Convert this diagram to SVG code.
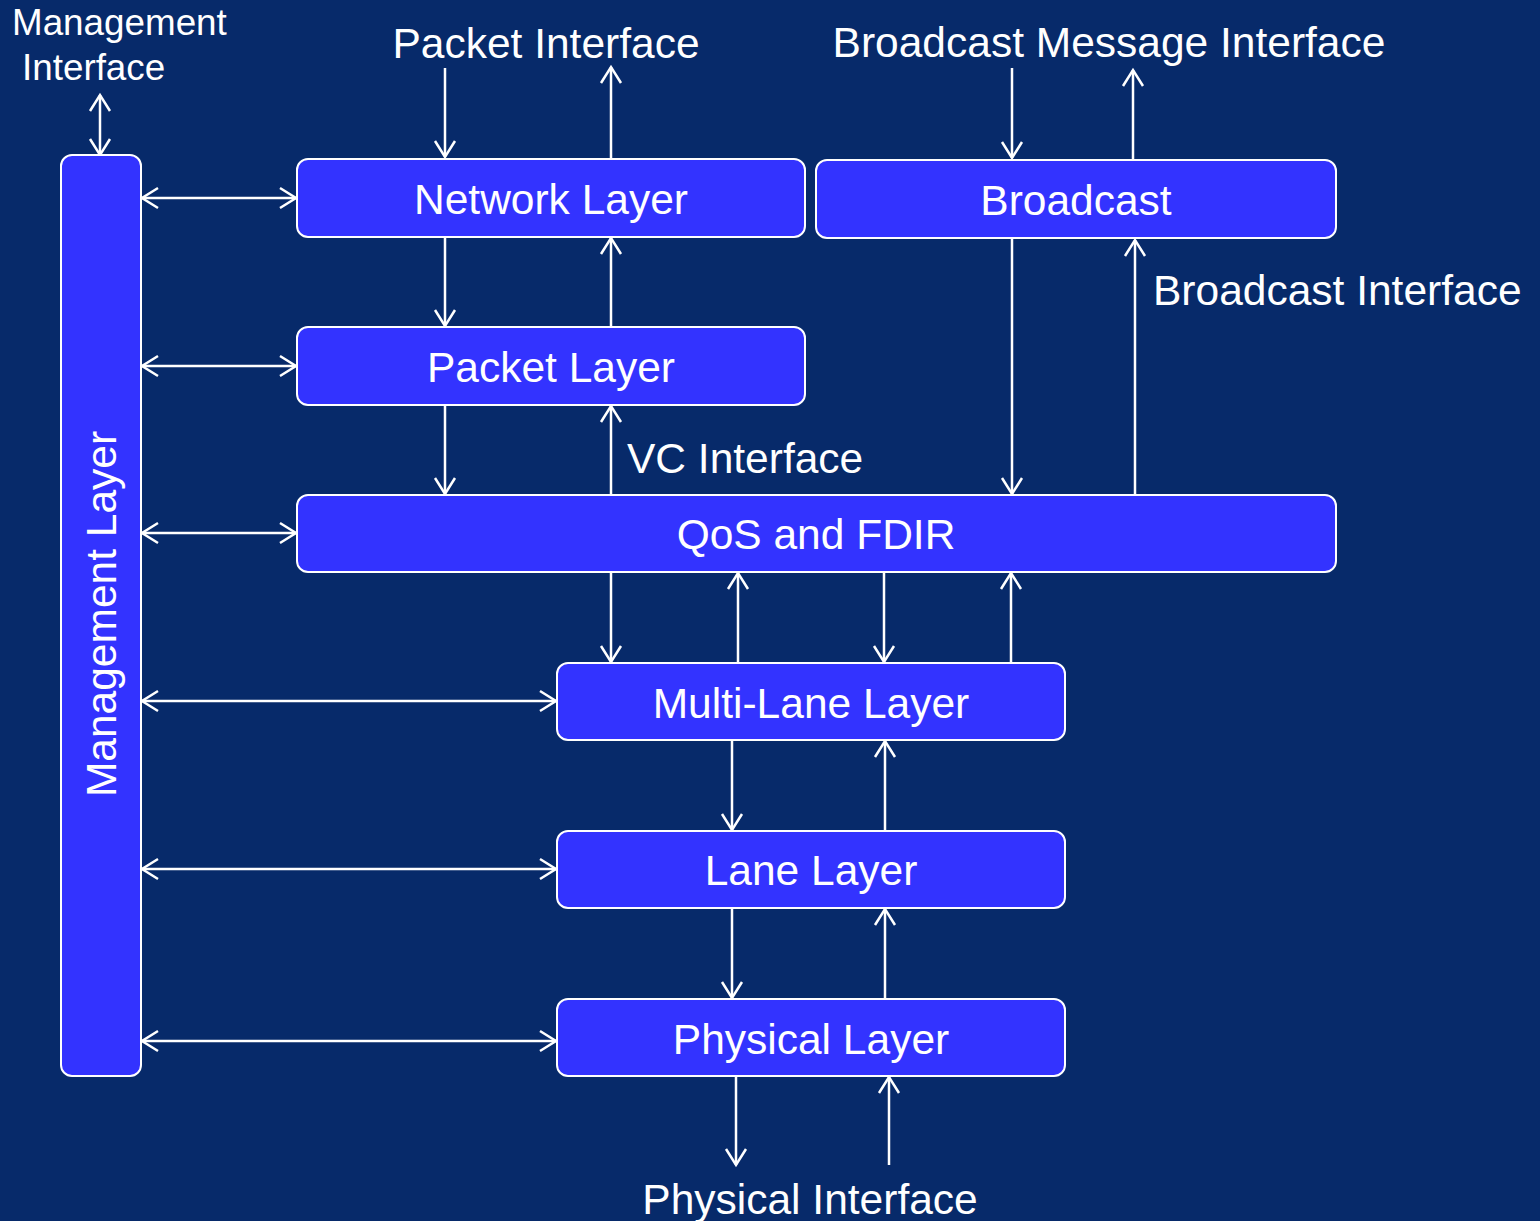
<svg xmlns="http://www.w3.org/2000/svg" width="1540" height="1221" viewBox="0 0 1540 1221">
<defs>
<style>
.node{fill:#3333FF;stroke:#FFFFFF;stroke-width:2}
.t{font-family:"Liberation Sans",Arial,sans-serif;fill:#FFFFFF;font-size:42.5px}
.s{font-size:36.8px}
.c{text-anchor:middle}
.e line{stroke:#FFFFFF;stroke-width:2.5;fill:none}
.a{marker-end:url(#ah)}
.d{marker-start:url(#ah);marker-end:url(#ah)}
</style>
<marker id="ah" markerUnits="userSpaceOnUse" markerWidth="22" markerHeight="26" viewBox="-18 -12 22 24" refX="0" refY="0" orient="auto-start-reverse">
<path d="M-16,-10 L0,0 L-16,10" fill="none" stroke="#FFFFFF" stroke-width="2.5"/>
</marker>
</defs>
<rect width="1540" height="1221" fill="#072A6A"/>
<g id="connectors" class="e">
<line class="d" x1="100" y1="95" x2="100" y2="155"/>
<line class="d" x1="142" y1="198" x2="296" y2="198"/>
<line class="d" x1="142" y1="366" x2="296" y2="366"/>
<line class="d" x1="142" y1="533" x2="296" y2="533"/>
<line class="d" x1="142" y1="701" x2="556" y2="701"/>
<line class="d" x1="142" y1="869" x2="556" y2="869"/>
<line class="d" x1="142" y1="1041" x2="556" y2="1041"/>
<line class="a" x1="445" y1="68" x2="445" y2="157"/>
<line class="a" x1="611" y1="158" x2="611" y2="67"/>
<line class="a" x1="445" y1="238" x2="445" y2="326"/>
<line class="a" x1="611" y1="326" x2="611" y2="238"/>
<line class="a" x1="445" y1="406" x2="445" y2="494"/>
<line class="a" x1="611" y1="494" x2="611" y2="406"/>
<line class="a" x1="1012" y1="68" x2="1012" y2="158"/>
<line class="a" x1="1133" y1="159" x2="1133" y2="70"/>
<line class="a" x1="1012" y1="239" x2="1012" y2="494"/>
<line class="a" x1="1135" y1="494" x2="1135" y2="240"/>
<line class="a" x1="611" y1="573" x2="611" y2="662"/>
<line class="a" x1="738" y1="662" x2="738" y2="573"/>
<line class="a" x1="884" y1="573" x2="884" y2="662"/>
<line class="a" x1="1011" y1="662" x2="1011" y2="573"/>
<line class="a" x1="732" y1="741" x2="732" y2="830"/>
<line class="a" x1="885" y1="830" x2="885" y2="741"/>
<line class="a" x1="732" y1="909" x2="732" y2="998"/>
<line class="a" x1="885" y1="998" x2="885" y2="909"/>
<line class="a" x1="736" y1="1077" x2="736" y2="1165"/>
<line class="a" x1="889" y1="1165" x2="889" y2="1077"/>
</g>
<g id="management-layer">
<rect class="node" x="61" y="155" width="80" height="921" rx="11"/>
<text class="t c" transform="translate(116,614) rotate(-90)">Management Layer</text>
</g>
<g id="network-layer">
<rect class="node" x="297" y="159" width="508" height="78" rx="11"/>
<text class="t c" x="551" y="214">Network Layer</text>
</g>
<g id="broadcast">
<rect class="node" x="816" y="160" width="520" height="78" rx="11"/>
<text class="t c" x="1076" y="215">Broadcast</text>
</g>
<g id="packet-layer">
<rect class="node" x="297" y="327" width="508" height="78" rx="11"/>
<text class="t c" x="551" y="382">Packet Layer</text>
</g>
<g id="qos-fdir">
<rect class="node" x="297" y="495" width="1039" height="77" rx="11"/>
<text class="t c" x="816" y="549">QoS and FDIR</text>
</g>
<g id="multi-lane-layer">
<rect class="node" x="557" y="663" width="508" height="77" rx="11"/>
<text class="t c" x="811" y="718">Multi-Lane Layer</text>
</g>
<g id="lane-layer">
<rect class="node" x="557" y="831" width="508" height="77" rx="11"/>
<text class="t c" x="811" y="885">Lane Layer</text>
</g>
<g id="physical-layer">
<rect class="node" x="557" y="999" width="508" height="77" rx="11"/>
<text class="t c" x="811" y="1054">Physical Layer</text>
</g>
<g id="labels">
<text class="t s" x="12" y="35">Management</text>
<text class="t s" x="22" y="80">Interface</text>
<text class="t c" x="546" y="58">Packet Interface</text>
<text class="t c" x="1109" y="57">Broadcast Message Interface</text>
<text class="t" x="1153" y="305">Broadcast Interface</text>
<text class="t" x="627" y="473">VC Interface</text>
<text class="t c" x="810" y="1214">Physical Interface</text>
</g>
</svg>
